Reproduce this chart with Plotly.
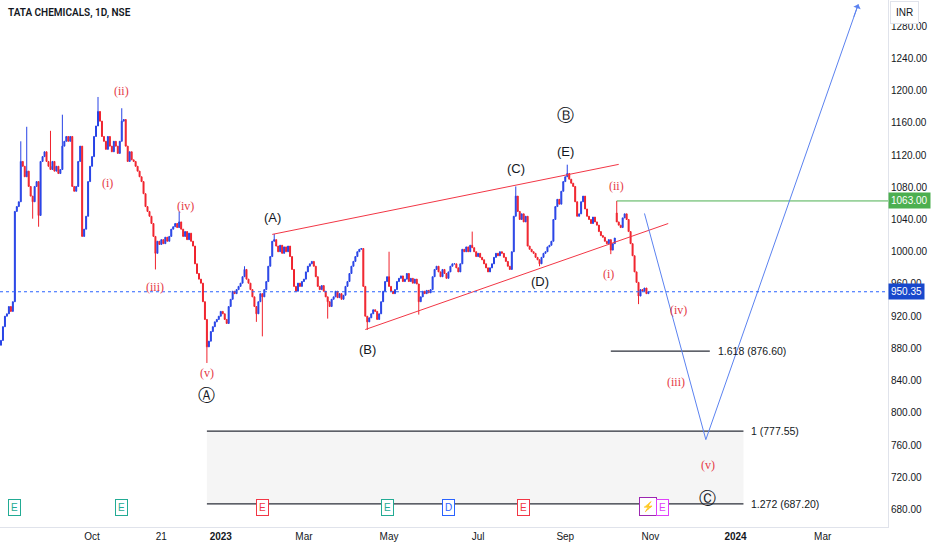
import pandas as pd
import plotly.graph_objects as go

# daily closes (weekdays only), one list per month
jul22 = [884, 890]
aug22 = [907, 920, 923, 932, 926, 938, 1050, 1056, 1062, 1112, 1106, 1093, 1100, 1081, 1069, 1062,
         1081, 1087, 1045, 1112, 1118, 1124, 1112]
sep22 = [1106, 1102, 1112, 1100, 1106, 1097, 1102, 1131, 1137, 1143, 1137, 1143, 1081, 1075, 1081,
         1112, 1131, 1019, 1028, 1044, 1087, 1106]
oct22 = [1118, 1143, 1156, 1174, 1162, 1143, 1137, 1127, 1143, 1131, 1124, 1137, 1131, 1122, 1137,
         1162, 1164, 1131, 1112, 1124, 1114]
nov22 = [1112, 1106, 1100, 1093, 1087, 1072, 1056, 1050, 1044, 1035, 1019, 998, 1013, 1009, 1015,
         1010, 1018, 1013, 1019, 1028, 1031, 1035]
dec22 = [1030, 1037, 1028, 1019, 1025, 1015, 1023, 1013, 1007, 985, 973, 966, 961, 938, 916, 882,
         889, 901, 907, 913, 916, 920]
jan23 = [926, 923, 916, 911, 932, 941, 951, 948, 953, 957, 961, 969, 978, 966, 961, 953, 944, 932,
         923, 938, 948, 944]
feb23 = [953, 963, 982, 994, 1013, 1015, 1007, 1000, 1008, 998, 1006, 1000, 1007, 994, 978, 957,
         951, 961, 957, 963]
mar23 = [966, 975, 982, 985, 988, 982, 969, 957, 953, 958, 951, 944, 938, 932, 941, 944, 951, 943,
         948, 941, 946, 957, 963]
apr23 = [973, 982, 988, 994, 1000, 1003, 1004, 957, 920, 913, 918, 923, 928, 926, 916, 923, 938,
         951, 963, 969]
may23 = [957, 951, 948, 953, 963, 967, 970, 963, 966, 973, 963, 967, 961, 966, 960, 938, 944, 951,
         948, 952, 949, 953, 969]
jun23 = [978, 982, 975, 969, 978, 973, 967, 975, 982, 985, 985, 980, 975, 985, 1003, 1000, 1006,
         1000, 1008, 1005, 1000, 994]
jul23 = [998, 993, 990, 985, 980, 975, 980, 985, 993, 998, 995, 1000, 998, 993, 988, 982, 978, 1000,
         1044, 1069, 1050]
aug23 = [1040, 1047, 1037, 1044, 1007, 1003, 1000, 998, 993, 990, 985, 993, 998, 1000, 1006, 1008,
         1013, 1040, 1056, 1065, 1059, 1075, 1087]
sep23 = [1093, 1097, 1090, 1085, 1081, 1062, 1044, 1047, 1062, 1069, 1053, 1044, 1040, 1035, 1043,
         1037, 1033, 1025, 1020, 1018, 1013]
oct23 = [1010, 1015, 1002, 1010, 1017, 1037, 1033, 1030, 1042, 1047, 1040, 1025, 1010, 995, 975, 962,
         945, 953, 951, 955, 948, 950.35]

months = [("2022-07-28", jul22), ("2022-08-01", aug22), ("2022-09-01", sep22), ("2022-10-03", oct22),
          ("2022-11-01", nov22), ("2022-12-01", dec22), ("2023-01-02", jan23), ("2023-02-01", feb23),
          ("2023-03-01", mar23), ("2023-04-03", apr23), ("2023-05-01", may23), ("2023-06-01", jun23),
          ("2023-07-03", jul23), ("2023-08-01", aug23), ("2023-09-01", sep23), ("2023-10-02", oct23)]

# wicks that stick out visibly
wick_high = {"2022-08-12": 1137, "2022-08-17": 1155, "2022-09-02": 1150, "2022-09-12": 1170,
             "2022-10-06": 1192, "2022-10-24": 1178, "2022-12-02": 1050, "2023-01-18": 982,
             "2023-02-08": 1022, "2023-05-01": 1000, "2023-06-28": 1025, "2023-07-28": 1081,
             "2023-09-04": 1108, "2023-10-09": 1063}
wick_low = {"2022-08-22": 1041, "2022-08-25": 1031, "2022-11-16": 978, "2022-12-22": 862,
            "2023-01-26": 913, "2023-01-31": 895, "2023-03-17": 917, "2023-04-14": 903,
            "2023-05-22": 922, "2023-08-15": 982, "2023-10-04": 997, "2023-10-24": 935}
gap_open = {"2022-07-28": 880, "2023-10-09": 1048}

last_price = 950.35
green_level = 1063.0
green_start = "2023-10-09"

# drawings
upper_x = ["2023-02-07", "2023-10-10"]
upper_y = [1021.5, 1108.4]
lower_x = ["2023-04-13", "2023-11-14"]
lower_y = [903.5, 1035]
proj_x = ["2023-10-27", "2023-12-11", "2024-03-27"]
proj_y = [1047.5, 766.9, 1307]
fib_levels = [876.60, 777.55, 687.20]
fib_text = ["1.618 (876.60)", "1 (777.55)", "1.272 (687.20)"]
fib_x0 = ["2023-10-04", "2022-12-22", "2022-12-22"]
fib_x1 = ["2023-12-13", "2024-01-05", "2024-01-05"]

red_labels = ["(ii)", "(i)", "(iv)", "(iii)", "(v)", "(ii)", "(i)", "(iv)", "(iii)", "(v)"]
red_x = ["2022-10-24", "2022-10-13", "2022-12-07", "2022-11-16", "2022-12-22",
         "2023-10-09", "2023-10-03", "2023-11-21", "2023-11-20", "2023-12-12"]
red_y = [1199, 1085, 1057, 956, 849, 1082, 972, 928, 839, 735]
black_labels = ["(A)", "(B)", "(C)", "(D)", "(E)", "Ⓐ", "Ⓑ", "Ⓒ"]
black_x = ["2023-02-07", "2023-04-14", "2023-07-28", "2023-08-15", "2023-09-01",
           "2022-12-22", "2023-09-01", "2023-12-12"]
black_y = [1043, 879, 1103, 963, 1124, 822, 1170, 695]

events = ["E", "E", "E", "E", "D", "E", "⚡", "E"]
event_x = ["2022-08-09", "2022-10-24", "2023-01-31", "2023-04-28", "2023-06-12", "2023-08-03",
           "2023-10-31", "2023-11-09"]
event_col = ["#22ab94", "#22ab94", "#f23645", "#22ab94", "#2962ff", "#f23645", "#9c27b0", "#e040fb"]

tick_dates = ["2022-08-01", "2022-10-03", "2022-11-21", "2023-01-02", "2023-03-01", "2023-05-01",
              "2023-07-03", "2023-09-01", "2023-11-01", "2024-01-01", "2024-03-01"]
tick_text = ["Aug", "Oct", "21", "<b>2023</b>", "Mar", "May", "Jul", "Sep", "Nov", "<b>2024</b>", "Mar"]
price_ticks = list(range(680, 1281, 40))

# build the ohlc table
dates, closes = [], []
for start, vals in months:
    dates += list(pd.bdate_range(start, periods=len(vals)))
    closes += vals
df = pd.DataFrame({"date": dates, "close": closes})
df["open"] = df["close"].shift(1)
keys = df["date"].dt.strftime("%Y-%m-%d")
for k, v in gap_open.items():
    df.loc[keys == k, "open"] = v
df["high"] = df[["open", "close"]].max(axis=1)
df["low"] = df[["open", "close"]].min(axis=1)
for k, v in wick_high.items():
    df.loc[keys == k, "high"] = v
for k, v in wick_low.items():
    df.loc[keys == k, "low"] = v

RED = "#f0232d"
BLUE = "#2743e6"
SANS = "Liberation Sans"
fig = go.Figure()

fig.add_shape(type="rect", x0=fib_x0[1], x1=fib_x1[1], y0=fib_levels[2], y1=fib_levels[1],
              fillcolor="#f5f5f5", line_width=0, layer="below")

fig.add_trace(go.Candlestick(x=df["date"], open=df["open"], high=df["high"], low=df["low"],
                             close=df["close"],
                             increasing=dict(line=dict(color=BLUE, width=1), fillcolor=BLUE),
                             decreasing=dict(line=dict(color=RED, width=1), fillcolor=RED),
                             hoverinfo="skip"))

# last price line
fig.add_hline(y=last_price, line=dict(color="#2962ff", width=1, dash="dot"))

# green level
fig.add_trace(go.Scatter(x=[green_start, "2024-04-17"], y=[green_level, green_level], mode="lines",
                         line=dict(color="#4caf50", width=1), hoverinfo="skip"))

# wedge lines
fig.add_trace(go.Scatter(x=upper_x, y=upper_y, mode="lines", line=dict(color="#f23645", width=1),
                         hoverinfo="skip"))
fig.add_trace(go.Scatter(x=lower_x, y=lower_y, mode="lines", line=dict(color="#f23645", width=1),
                         hoverinfo="skip"))

# fib lines
for i in range(3):
    fig.add_trace(go.Scatter(x=[fib_x0[i], fib_x1[i]], y=[fib_levels[i], fib_levels[i]], mode="lines",
                             line=dict(color="#2a2e39", width=1.3), hoverinfo="skip"))
    fig.add_annotation(x=fib_x1[i], y=fib_levels[i], text=fib_text[i], showarrow=False,
                       xanchor="left", xshift=6,
                       font=dict(size=10.5, color="#131722", family=SANS))

# projection
fig.add_trace(go.Scatter(x=proj_x, y=proj_y, mode="lines", line=dict(color="#5b82f0", width=1),
                         hoverinfo="skip"))
fig.add_annotation(x=proj_x[2], y=proj_y[2], ax=-5, ay=14, text="", showarrow=True,
                   arrowhead=1, arrowsize=1.3, arrowwidth=1, arrowcolor="#5b82f0")

# wave labels
for t, x, y in zip(red_labels, red_x, red_y):
    fig.add_annotation(x=x, y=y, text=t, showarrow=False,
                       font=dict(size=12, color="#e53945", family="Liberation Serif"))
for t, x, y in zip(black_labels, black_x, black_y):
    big = t in "ⒶⒷⒸ"
    fig.add_annotation(x=x, y=y, text=t, showarrow=False,
                       font=dict(size=17 if big else 13, color="#131722",
                                 family="DejaVu Sans" if big else SANS))

# events row
for t, x, c in zip(events, event_x, event_col):
    fig.add_annotation(x=x, y=0.021, yref="paper", text=t, showarrow=False,
                       font=dict(size=10, color=c), bordercolor=c, borderwidth=1, borderpad=2,
                       bgcolor="white")

# title and axis boxes
fig.add_annotation(x=0.007, y=1 - 13 / 527, xref="paper", yref="paper", text="TATA CHEMICALS, 1D, NSE",
                   showarrow=False, xanchor="left", yanchor="middle",
                   font=dict(size=10, color="#131722", family="Roboto", weight=600))
fig.add_annotation(x=1.002, y=1 - 13 / 527, xref="paper", yref="paper", text="INR", showarrow=False,
                   xanchor="left", yanchor="middle", font=dict(size=10, color="#131722", family=SANS),
                   bgcolor="white", bordercolor="#e0e3eb", borderwidth=1, borderpad=5)
fig.add_annotation(x=1.0, y=green_level, xref="paper", yref="y", text="%.2f" % green_level,
                   showarrow=False, xanchor="left", bgcolor="#4caf50", borderpad=2,
                   font=dict(size=10, color="white", family=SANS))
fig.add_annotation(x=1.0, y=last_price, xref="paper", yref="y", text="%.2f" % last_price,
                   showarrow=False, xanchor="left", bgcolor="#1848cc", borderpad=2,
                   font=dict(size=10, color="white", family=SANS))

fig.update_layout(width=932, height=550, margin=dict(l=0, r=44, t=0, b=23),
                  paper_bgcolor="white", plot_bgcolor="white", showlegend=False,
                  font=dict(family=SANS, color="#131722"))
fig.update_xaxes(type="date", range=["2022-07-28 12:00", "2024-04-17"],
                 rangebreaks=[dict(bounds=["sat", "mon"])], rangeslider_visible=False,
                 showgrid=False, zeroline=False, showline=True, linecolor="#e0e3eb",
                 tickvals=tick_dates, ticktext=tick_text,
                 tickfont=dict(size=10, color="#131722", family=SANS))
fig.update_yaxes(side="right", range=[658.5, 1312.3], tickvals=price_ticks, tickformat=".2f",
                 showgrid=False, zeroline=False, showline=True, linecolor="#e0e3eb",
                 tickfont=dict(size=10, color="#131722", family=SANS))

fig.write_html("out.html", config={"displayModeBar": False},
               post_script="document.body.style.margin='0px';")
